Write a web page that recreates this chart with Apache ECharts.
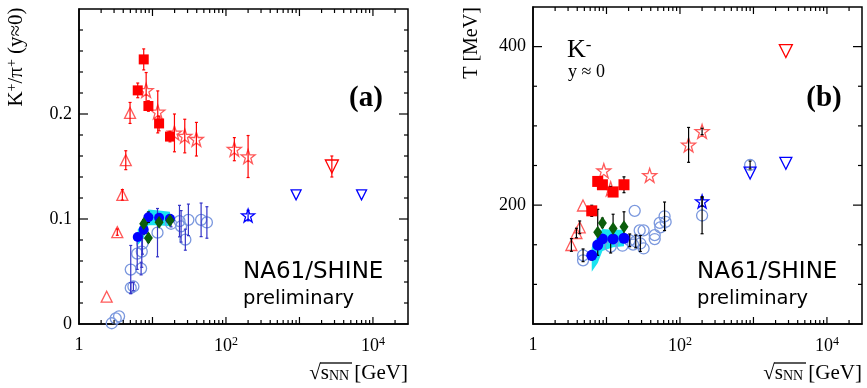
<!DOCTYPE html>
<html>
<head>
<meta charset="utf-8">
<script src="https://cdn.jsdelivr.net/npm/echarts@6/dist/echarts.min.js"></script>
<style>
  html, body { margin: 0; padding: 0; background: #fff; }
  #chart { width: 867px; height: 388px; }
</style>
</head>
<body>
<div id="chart"></div>
<script>
// ---- panel (a): K+/pi+ at y~0 ----
const aSqX = [6.3, 7.6, 8.8, 12.3, 17.3];
const aSqY = [0.2225, 0.252, 0.2076, 0.191, 0.1785];
const aSqE = [0.007, 0.01, 0.005, 0.007, 0.005];

const aStarX = [8.2, 11.8, 19.9, 27.5, 39.6, 130, 200];
const aStarY = [0.2225, 0.202, 0.182, 0.179, 0.176, 0.1665, 0.1595];
const aStarE = [0.017, 0.02, 0.018, 0.016, 0.016, 0.011, 0.02];

const aTriX = [2.38, 3.32, 3.89, 4.33, 4.95];
const aTriY = [0.026, 0.0875, 0.123, 0.156, 0.201];
const aTriE = [0, 0.003, 0.005, 0.009, 0.01];

const aDnRedX = [2760];
const aDnRedY = [0.150];
const aDnRedE = [0.01];

const aDnBlueX = [900, 7000];
const aDnBlueY = [0.123, 0.123];

const aStarBlueX = [200];
const aStarBlueY = [0.1033];
const aStarBlueE = [0.005];

const aDotX = [6.3, 7.6, 8.8, 12.3, 17.3];
const aDotY = [0.0828, 0.0897, 0.1017, 0.1011, 0.1002];
const aDotE = [0.003, 0.004, 0.005, 0.002, 0.002];
const aBandLo = [0.075, 0.082, 0.094, 0.094, 0.093];
const aBandHi = [0.090, 0.098, 0.109, 0.108, 0.107];

const aDiaX = [7.6, 8.8, 12.3, 17.3];
const aDiaY = [0.0955, 0.0818, 0.097, 0.0986];
const aDiaE = [0.004, 0.004, 0.003, 0.003];

const aCircX = [2.79, 3.16, 3.51, 5.06, 5.5, 5.06, 6.2, 7.0, 7.15, 7.3, 11.7, 17.9, 23.3, 24.5, 28, 30.8, 45.9, 55];
const aCircY = [0.0007, 0.0054, 0.0073, 0.0344, 0.0357, 0.0518, 0.067, 0.0528, 0.069, 0.0765, 0.087, 0.0955, 0.098, 0.093, 0.0803, 0.0992, 0.0992, 0.0967];
const aCircE = [0, 0, 0, 0.005, 0.004, 0.023, 0.015, 0.006, 0.015, 0.01, 0.023, 0.003, 0.015, 0.015, 0.01, 0.015, 0.016, 0.015];

// ---- panel (b): K- inverse slope T [MeV] ----
const bSqX = [6.3, 7.6, 8.8, 12.3, 17.3];
const bSqY = [192.8, 229.9, 225.7, 216.5, 225.7];
const bSqE = [7, 5, 5, 5, 10];

const bStarX = [9.2, 11.4, 38.7, 131, 200];
const bStarY = [243.4, 220.6, 237.6, 276, 293];
const bStarE = [0, 3, 0, 22, 4];

const bTriX = [3.33, 3.9, 4.32, 4.79];
const bTriY = [149.7, 164.8, 172, 199.5];
const bTriE = [8, 6, 8, 0];

const bDnRedX = [2760];
const bDnRedY = [394.4];

const bDnBlueX = [900, 2760];
const bDnBlueY = [240.5, 252.8];

const bStarBlueX = [200];
const bStarBlueY = [204.6];
const bStarBlueE = [6];

const bDotX = [6.3, 7.6, 8.8, 12.3, 17.3];
const bDotY = [136.7, 149.7, 157.3, 157.3, 158.2];
const bDotE = [6, 5, 5, 5, 5];
const bBandLo = [116, 127, 142, 147, 148];
const bBandHi = [147, 162, 170, 169, 169];

const bDiaX = [7.6, 8.8, 12.3, 17.3];
const bDiaY = [165.7, 177.6, 170.5, 172.6];
const bDiaE = [29, 6, 18, 19];

const bCircX = [4.8, 4.8, 11.4, 16.5, 20.7, 23, 25, 28.3, 32, 28.9, 32, 24.2, 45.3, 45.3, 53, 61.7, 63.8, 54, 200, 900];
const bCircY = [136.7, 130.4, 147.6, 148.8, 155.6, 150.1, 154.2, 168.1, 168.1, 151.6, 145.3, 192.8, 162.2, 157.2, 177.6, 185.9, 178.8, 172, 186.9, 250.6];
const bCircE = [8, 0, 8, 0, 8, 0, 8, 0, 0, 10, 0, 0, 0, 0, 0, 18, 0, 0, 23, 5];

// axis ticks and labels
const xMajor = [10, 100, 1000, 10000];
const xLabels = [1, 100, 10000];
const xMinor = [];
for (const d of [1, 10, 100, 1000, 10000]) {
  for (let k = 2; k <= 9; k++) if (k * d < 30000) xMinor.push(k * d);
}
const aYMajor = [0.1, 0.2];
const aYMinor = [0.02, 0.04, 0.06, 0.08, 0.12, 0.14, 0.16, 0.18, 0.22, 0.24, 0.26, 0.28];
const bYMajor = [200, 400];
const bYMinor = [100, 150, 250, 300, 350];

const X_MIN = 1, X_MAX = 30000;
const A_MIN = 0, A_MAX = 0.3;
const B_MIN = 50, B_MAX = 450;

const SERIF = '"Liberation Serif", "DejaVu Serif", serif';
const SANS = '"DejaVu Sans", sans-serif';
const STAR = 'path://M50,2 L61.5,36 L97,36 L68.5,57.5 L79,92 L50,71 L21,92 L31.5,57.5 L3,36 L38.5,36 Z';

const RED = '#ff0000';
const LRED = '#ff5a5a';
const BLUE = '#0000ff';
const LBLUE = '#7b98de';
const GREEN = '#0b5d0b';
const CYAN = '#19e3f0';

const chart = echarts.init(document.getElementById('chart'));

const axLine = () => ({ show: true, lineStyle: { color: '#000', width: 1.5 } });

function logAxis(grid) {
  return {
    type: 'log', logBase: 10, min: X_MIN, max: X_MAX, gridIndex: grid, position: 'bottom',
    splitLine: { show: false }, axisLine: axLine(), axisTick: { show: false },
    axisLabel: {
      show: true, customValues: xLabels, margin: 12, color: '#000',
      formatter: v => v === 1 ? '{n|1}' : '{n|10}{s|' + Math.round(Math.log10(v)) + '}',
      rich: {
        n: { fontFamily: SERIF, fontSize: 18, color: '#000' },
        s: { fontFamily: SERIF, fontSize: 12, color: '#000', verticalAlign: 'top', padding: [0, 0, 8, 0] }
      }
    }
  };
}

const yAxisA = {
  type: 'value', gridIndex: 0, position: 'left', min: A_MIN, max: A_MAX, interval: 0.1,
  splitLine: { show: false }, axisLine: axLine(), axisTick: { show: false },
  axisLabel: {
    margin: 7, color: '#000', fontFamily: SERIF, fontSize: 18, showMaxLabel: false,
    formatter: v => v === 0 ? '0' : v.toFixed(1)
  }
};

const yAxisB = {
  type: 'value', gridIndex: 1, position: 'left', min: B_MIN, max: B_MAX,
  splitLine: { show: false }, axisLine: axLine(), axisTick: { show: false },
  axisLabel: { customValues: bYMajor, margin: 7, color: '#000', fontFamily: SERIF, fontSize: 18 }
};

// inward ticks on all four frame sides, placed through the axis scales
function xTicks(vals, len, yMin, yMax, xi, yi) {
  return {
    type: 'custom', xAxisIndex: xi, yAxisIndex: yi, z: 5, silent: true,
    encode: { x: 0, y: 1 },
    data: vals.map(v => [v, yMin]),
    renderItem: (params, api) => {
      const b = api.coord([api.value(0), yMin]);
      const t = api.coord([api.value(0), yMax]);
      const st = { stroke: '#000', lineWidth: 1.2 };
      return {
        type: 'group',
        children: [
          { type: 'line', shape: { x1: b[0], y1: b[1], x2: b[0], y2: b[1] - len }, style: st },
          { type: 'line', shape: { x1: t[0], y1: t[1], x2: t[0], y2: t[1] + len }, style: st }
        ]
      };
    }
  };
}

function yTicks(vals, len, xi, yi) {
  return {
    type: 'custom', xAxisIndex: xi, yAxisIndex: yi, z: 5, silent: true,
    encode: { x: 0, y: 1 },
    data: vals.map(v => [X_MIN, v]),
    renderItem: (params, api) => {
      const l = api.coord([X_MIN, api.value(1)]);
      const r = api.coord([X_MAX, api.value(1)]);
      const st = { stroke: '#000', lineWidth: 1.2 };
      return {
        type: 'group',
        children: [
          { type: 'line', shape: { x1: l[0], y1: l[1], x2: l[0] + len, y2: l[1] }, style: st },
          { type: 'line', shape: { x1: r[0], y1: r[1], x2: r[0] - len, y2: r[1] }, style: st }
        ]
      };
    }
  };
}

function pts(xs, ys) {
  return xs.map((x, i) => [x, ys[i]]);
}

function errBars(xs, ys, es, color, xi, yi) {
  const data = [];
  xs.forEach((x, i) => { if (es[i] > 0) data.push([x, ys[i] - es[i], ys[i] + es[i]]); });
  return {
    type: 'custom', xAxisIndex: xi, yAxisIndex: yi, z: 3, silent: true,
    encode: { x: 0, y: [1, 2] },
    data: data,
    renderItem: (params, api) => {
      const lo = api.coord([api.value(0), api.value(1)]);
      const hi = api.coord([api.value(0), api.value(2)]);
      const st = { stroke: color, lineWidth: 1.2 };
      return {
        type: 'group',
        children: [
          { type: 'line', shape: { x1: lo[0], y1: lo[1], x2: hi[0], y2: hi[1] }, style: st },
          { type: 'line', shape: { x1: lo[0] - 1.5, y1: lo[1], x2: lo[0] + 1.5, y2: lo[1] }, style: st },
          { type: 'line', shape: { x1: hi[0] - 1.5, y1: hi[1], x2: hi[0] + 1.5, y2: hi[1] }, style: st }
        ]
      };
    }
  };
}

function filled(xs, ys, symbol, size, color, xi, yi) {
  return {
    type: 'scatter', xAxisIndex: xi, yAxisIndex: yi, z: 4, silent: true,
    symbol: symbol, symbolSize: size,
    itemStyle: { color: color, opacity: 1 },
    data: pts(xs, ys)
  };
}

function open(xs, ys, symbol, size, color, xi, yi, rot) {
  return {
    type: 'scatter', xAxisIndex: xi, yAxisIndex: yi, z: 2, silent: true,
    symbol: symbol, symbolSize: size, symbolRotate: rot || 0,
    itemStyle: { color: 'rgba(0,0,0,0)', borderColor: color, borderWidth: 1.3, opacity: 1 },
    data: pts(xs, ys)
  };
}

// systematic band drawn as one polygon through the axis scales
function band(xs, lo, hi, xi, yi) {
  return {
    type: 'custom', xAxisIndex: xi, yAxisIndex: yi, z: 1, silent: true,
    encode: { x: 0, y: [1, 2] },
    data: xs.map((x, i) => [x, lo[i], hi[i]]),
    renderItem: (params, api) => {
      if (params.dataIndex !== 0) return null;
      const top = xs.map((x, i) => api.coord([x, hi[i]]));
      const bot = xs.map((x, i) => api.coord([x, lo[i]])).reverse();
      return { type: 'polygon', shape: { points: top.concat(bot) }, style: { fill: CYAN } };
    }
  };
}

// panel indices: (a) x 0, y 0 ; (b) x 1, y 1
const series = [
  xTicks(xMajor, 7, A_MIN, A_MAX, 0, 0),
  xTicks(xMinor, 4, A_MIN, A_MAX, 0, 0),
  yTicks(aYMajor, 9, 0, 0),
  yTicks(aYMinor, 4, 0, 0),
  band(aDotX, aBandLo, aBandHi, 0, 0),
  errBars(aSqX, aSqY, aSqE, RED, 0, 0),
  errBars(aStarX, aStarY, aStarE, RED, 0, 0),
  errBars(aTriX, aTriY, aTriE, RED, 0, 0),
  errBars(aDnRedX, aDnRedY, aDnRedE, RED, 0, 0),
  errBars(aStarBlueX, aStarBlueY, aStarBlueE, BLUE, 0, 0),
  errBars(aDotX, aDotY, aDotE, '#000', 0, 0),
  errBars(aDiaX, aDiaY, aDiaE, '#000', 0, 0),
  errBars(aCircX, aCircY, aCircE, '#3434c8', 0, 0),
  open(aCircX, aCircY, 'circle', 11, LBLUE, 0, 0),
  open(aTriX, aTriY, 'triangle', 11, LRED, 0, 0),
  open(aStarX, aStarY, STAR, 14, LRED, 0, 0),
  open(aDnRedX, aDnRedY, 'triangle', 13, RED, 0, 0, 180),
  open(aDnBlueX, aDnBlueY, 'triangle', 10, BLUE, 0, 0, 180),
  open(aStarBlueX, aStarBlueY, STAR, 13, BLUE, 0, 0),
  filled(aSqX, aSqY, 'rect', 10, RED, 0, 0),
  filled(aDotX, aDotY, 'circle', 10, BLUE, 0, 0),
  filled(aDiaX, aDiaY, 'diamond', [9, 13], GREEN, 0, 0),

  xTicks(xMajor, 7, B_MIN, B_MAX, 1, 1),
  xTicks(xMinor, 4, B_MIN, B_MAX, 1, 1),
  yTicks(bYMajor, 9, 1, 1),
  yTicks(bYMinor, 4, 1, 1),
  band(bDotX, bBandLo, bBandHi, 1, 1),
  errBars(bSqX, bSqY, bSqE, '#000', 1, 1),
  errBars(bStarX, bStarY, bStarE, '#000', 1, 1),
  errBars(bTriX, bTriY, bTriE, '#000', 1, 1),
  errBars(bStarBlueX, bStarBlueY, bStarBlueE, '#000', 1, 1),
  errBars(bDotX, bDotY, bDotE, '#000', 1, 1),
  errBars(bDiaX, bDiaY, bDiaE, '#000', 1, 1),
  errBars(bCircX, bCircY, bCircE, '#000', 1, 1),
  open(bCircX, bCircY, 'circle', 11, LBLUE, 1, 1),
  open(bTriX, bTriY, 'triangle', 11, LRED, 1, 1),
  open(bStarX, bStarY, STAR, 14, LRED, 1, 1),
  open(bDnRedX, bDnRedY, 'triangle', 13, RED, 1, 1, 180),
  open(bDnBlueX, bDnBlueY, 'triangle', 12, BLUE, 1, 1, 180),
  open(bStarBlueX, bStarBlueY, STAR, 13, BLUE, 1, 1),
  filled(bSqX, bSqY, 'rect', 11, RED, 1, 1),
  filled(bDotX, bDotY, 'circle', 11, BLUE, 1, 1),
  filled(bDiaX, bDiaY, 'diamond', [9, 13], GREEN, 1, 1)
];

function txt(x, y, text, font, extra) {
  return {
    type: 'text', x: x, y: y, silent: true,
    style: Object.assign({ text: text, font: font, fill: '#000' }, extra || {})
  };
}

const serifRich = size => ({
  m: { fontFamily: SERIF, fontSize: size, color: '#000' },
  s: { fontFamily: SERIF, fontSize: Math.round(size * 0.65), color: '#000', verticalAlign: 'top', padding: [0, 0, 8, 0] },
  u: { fontFamily: SERIF, fontSize: Math.round(size * 0.65), color: '#000', verticalAlign: 'bottom', padding: [7, 0, 0, 0] }
});

const graphics = [
  // y titles
  {
    type: 'text', x: 16, y: 57, rotation: Math.PI / 2, silent: true,
    style: {
      text: '{m|K}{s|+}{m|/π}{s|+}{m| (y≈0)}', rich: serifRich(21),
      align: 'center', verticalAlign: 'middle'
    }
  },
  {
    type: 'text', x: 472, y: 43, rotation: Math.PI / 2, silent: true,
    style: { text: 'T [MeV]', font: '20px ' + SERIF, fill: '#000', align: 'center', verticalAlign: 'middle' }
  },
  // x titles with the root overline
  txt(408, 373, '{m|√}{m|s}{u|NN}{m| [GeV]}', '', { rich: serifRich(21), align: 'right', verticalAlign: 'middle' }),
  txt(862, 373, '{m|√}{m|s}{u|NN}{m| [GeV]}', '', { rich: serifRich(21), align: 'right', verticalAlign: 'middle' }),
  { type: 'line', silent: true, z: 10, shape: { x1: 320, y1: 363, x2: 352, y2: 363 }, style: { stroke: '#000', lineWidth: 1.3 } },
  { type: 'line', silent: true, z: 10, shape: { x1: 774, y1: 363, x2: 806, y2: 363 }, style: { stroke: '#000', lineWidth: 1.3 } },
  // panel labels
  txt(366, 99, '(a)', 'bold 29px ' + SERIF, { align: 'center', verticalAlign: 'middle' }),
  txt(824, 99, '(b)', 'bold 29px ' + SERIF, { align: 'center', verticalAlign: 'middle' }),
  // NA61 labels
  txt(243, 272, 'NA61/SHINE', '23px ' + SANS, { verticalAlign: 'middle' }),
  txt(243, 299, 'preliminary', '19.5px ' + SANS, { verticalAlign: 'middle' }),
  txt(697, 272, 'NA61/SHINE', '23px ' + SANS, { verticalAlign: 'middle' }),
  txt(697, 299, 'preliminary', '19.5px ' + SANS, { verticalAlign: 'middle' }),
  // K- y~0
  txt(567, 50, '{m|K}{s|-}', '', { rich: serifRich(26), verticalAlign: 'middle' }),
  txt(568, 72, 'y ≈ 0', '18px ' + SERIF, { verticalAlign: 'middle' })
];

chart.setOption({
  animation: false,
  backgroundColor: '#fff',
  grid: [
    { left: 79, top: 9, width: 329, height: 315, show: true, borderColor: '#000', borderWidth: 1.5 },
    { left: 533, top: 7, width: 329, height: 317, show: true, borderColor: '#000', borderWidth: 1.5 }
  ],
  xAxis: [logAxis(0), logAxis(1)],
  yAxis: [yAxisA, yAxisB],
  series: series,
  graphic: graphics
});
</script>
</body>
</html>
